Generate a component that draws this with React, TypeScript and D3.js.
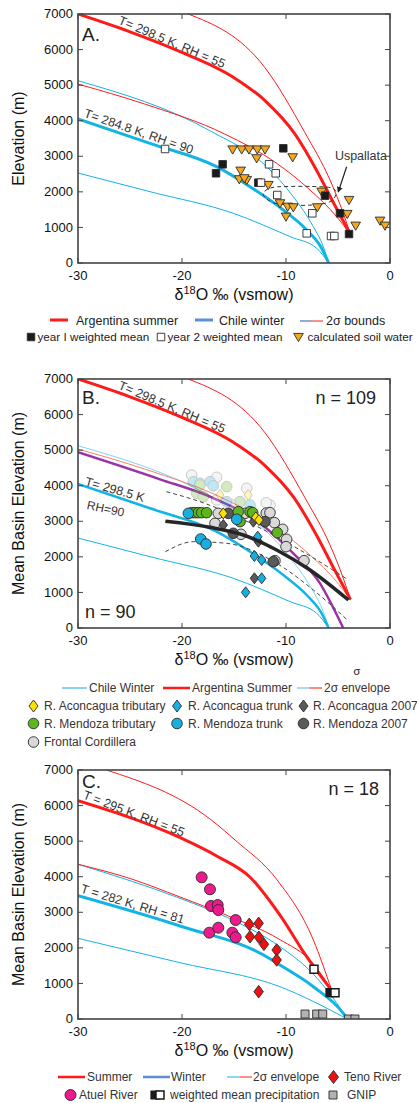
import React from "react";
import * as d3 from "d3";

type Pt = [number, number];

const FONT = "'Liberation Sans', Arial, Helvetica, sans-serif";

const xTicks = [-30, -20, -10, 0];
const yTicks = [0, 1000, 2000, 3000, 4000, 5000, 6000, 7000];

// model curves, panels A and B  (δ18O ‰, elevation m)
const summerMain: Pt[] = [[-30, 7000], [-25, 6500], [-20.4, 5970], [-15.1, 5230], [-12, 4560], [-9.2, 3650], [-7.05, 2600], [-5.45, 1700], [-3.8, 800]];
const summerUpper: Pt[] = [[-19.4, 7000], [-12.05, 5500], [-8.2, 3674], [-5.77, 2333], [-4.49, 1397], [-3.8, 800]];
const summerLower: Pt[] = [[-30, 5030], [-23.6, 4470], [-15.9, 3627], [-10.9, 2803], [-7.69, 2052], [-5.13, 1302], [-3.8, 800]];
const winterMain: Pt[] = [[-30, 4048], [-23.08, 3365], [-16.67, 2708], [-13.46, 2145], [-10.26, 1490], [-8.01, 928], [-6.57, 413], [-5.9, 0]];
const winterUpper: Pt[] = [[-30, 5125], [-17.2, 3700], [-11.86, 2708], [-9.3, 1864], [-7.37, 1020], [-6.41, 458], [-5.9, 0]];
const winterLower: Pt[] = [[-30, 2530], [-23.08, 2005], [-15.07, 1397], [-9.6, 740], [-7.05, 413], [-5.9, 0]];

// panel B extra curves
const purpleCurve: Pt[] = [[-30, 4940], [-22.12, 4180], [-17.31, 3691], [-12.5, 2943], [-9.3, 2099], [-6.73, 1256], [-5.13, 380], [-4.5, 0]];
const fitCurve: Pt[] = [[-21.6, 3000], [-17.31, 2830], [-14.1, 2614], [-10.9, 2193], [-7.69, 1631], [-4.0, 787]];
const fitUpper: Pt[] = [[-21.5, 3832], [-18.27, 3551], [-10.9, 2567], [-7.05, 1912], [-4.0, 1349]];
const fitLower: Pt[] = [[-21.6, 2145], [-18.9, 2427], [-15.7, 2380], [-10.9, 1818], [-7.37, 1068], [-4.0, 200]];

// panel C curves
const cSummerMain: Pt[] = [[-30, 6137], [-20.38, 5125], [-16.54, 4563], [-13.5, 4000], [-10.58, 2920], [-8.01, 1751], [-5.6, 800]];
const cSummerUpper: Pt[] = [[-27.28, 7000], [-17.18, 5594], [-14.9, 5032], [-10.85, 3908], [-7.37, 2221], [-5.6, 800]];
const cSummerLower: Pt[] = [[-30, 4350], [-25, 3950], [-20.19, 3430], [-15.38, 2876], [-10.7, 2250], [-7.37, 1550], [-5.6, 800]];
const cWinterMain: Pt[] = [[-30, 3466], [-20.19, 2614], [-11.86, 1751], [-10.58, 1518], [-7.37, 908], [-4.49, 159], [-4.1, 0]];
const cWinterUpper: Pt[] = [[-30, 4350], [-20.19, 3392], [-15.4, 2820], [-10.58, 2033], [-7.5, 1300], [-5.5, 600], [-4.1, 0]];
const cWinterLower: Pt[] = [[-30, 2268], [-20.19, 1583], [-10.58, 908], [-4.1, 0]];

// panel A samples
const yearOne: Pt[] = [[-16.73, 2522], [-16.09, 2774], [-10.26, 3224], [-12.66, 2258], [-6.25, 1893], [-4.81, 1397], [-3.94, 815]];
const yearTwo: Pt[] = [[-21.63, 3205], [-11.63, 2774], [-10.99, 2522], [-12.4, 2258], [-10.84, 1912], [-7.47, 1397], [-8.01, 834], [-5.67, 759], [-5.35, 759]];
const soilWater: Pt[] = [
  [-15.13, 3191], [-14.26, 3191], [-13.56, 3191], [-12.76, 3191], [-12.02, 3191], [-12.82, 2943], [-9.36, 2971],
  [-14.36, 2595], [-14.49, 2353], [-13.78, 2333], [-14.01, 2381], [-11.7, 2193], [-6.57, 2005], [-3.94, 1771],
  [-10.58, 1678], [-9.84, 1583], [-9.3, 1565], [-10.0, 1302], [-6.99, 1565], [-4.11, 1378], [-3.3, 1049],
  [-0.96, 1189], [-0.48, 1049],
];
const uspallataLoop: Pt[] = [[-12.2, 1930], [-11.5, 2110], [-10, 2150], [-7.5, 2150], [-5.6, 2110], [-5.2, 1930], [-5.8, 1720], [-7.5, 1630], [-9.5, 1630], [-11.3, 1700]];

// panel B samples
const fadedGray: Pt[] = [[-19.07, 4301], [-16.67, 4236], [-13.78, 3926], [-11.54, 3458], [-15.07, 3458], [-16.67, 3599], [-11.9, 3520]];
const fadedCyan: Pt[] = [[-18.91, 4113], [-18.27, 4068], [-17.31, 4113], [-15.7, 3551], [-13.46, 3458], [-17.0, 4000]];
const fadedGreen: Pt[] = [[-18.59, 3786], [-17.95, 3692], [-14.42, 3551], [-15.7, 3974], [-18.27, 4020]];
const fadedYellow: Pt[] = [[-16.35, 3739], [-13.63, 3739]];
const frontal: Pt[] = [[-16.83, 2943], [-16.51, 3223], [-14.33, 2634], [-13.94, 3223], [-11.9, 3230], [-11.54, 3242], [-11.12, 2962], [-10.32, 2774], [-9.94, 2493], [-10.0, 2287], [-11.06, 1892], [-8.27, 1892]];
const mendoza2007: Pt[] = [[-15.07, 2662], [-12.02, 2990], [-11.22, 1865], [-15.55, 3223]];
const mendozaTrib: Pt[] = [[-19.07, 3242], [-18.75, 3242], [-18.43, 3242], [-18.11, 3242], [-17.63, 3242], [-14.59, 3270], [-13.46, 3270], [-13.2, 3242], [-14.42, 2990], [-10.84, 2680]];
const mendozaTrunk: Pt[] = [[-19.39, 3223], [-18.2, 2502], [-17.69, 2362], [-14.74, 3055]];
const aconcagua2007: Pt[] = [[-16.03, 2896], [-13.14, 2990], [-12.66, 2427], [-13.04, 1397]];
const aconcaguaTrunk: Pt[] = [[-12.72, 2567], [-13.04, 2024], [-12.34, 1912], [-12.34, 1397], [-13.88, 1003]];
const aconcaguaTrib: Pt[] = [[-16.03, 3224], [-12.9, 3110], [-12.6, 3036]];

// panel C samples
const atuel: Pt[] = [[-18.11, 3983], [-17.31, 3646], [-17.21, 3177], [-16.57, 3205], [-16.51, 3064], [-14.84, 2783], [-17.37, 2427], [-16.51, 2567], [-15.16, 2427], [-14.84, 2296]];
const teno: Pt[] = [[-13.53, 2662], [-12.63, 2690], [-13.46, 2314], [-12.6, 2296], [-12.12, 2099], [-10.9, 1940], [-10.9, 1659], [-12.63, 768]];
const precipOpen: Pt[] = [[-7.31, 1397], [-5.29, 740]];
const precipFilled: Pt[] = [[-5.77, 740]];
const gnip: Pt[] = [[-8.17, 140], [-7.05, 140], [-6.47, 140], [-4.0, 0], [-3.37, 0]];

const RED = "#ff1a1a";
const CYAN = "#12b4e6";
const INK = "#333";

const sq = (cx: number, cy: number, s: number) => `M${cx - s / 2},${cy - s / 2}h${s}v${s}h${-s}Z`;
const tri = (cx: number, cy: number) => `M${cx - 4.8},${cy - 3.6}L${cx + 4.8},${cy - 3.6}L${cx},${cy + 4.6}Z`;
const dia = (cx: number, cy: number, w: number, h: number) =>
  `M${cx},${cy - h / 2}L${cx + w / 2},${cy}L${cx},${cy + h / 2}L${cx - w / 2},${cy}Z`;

type Sc = d3.ScaleLinear<number, number>;

function Panel({ top, letter, letterDy, yTitle, children }: { top: number; letter: string; letterDy: number; yTitle: string; children: (x: Sc, y: Sc, line: (p: Pt[]) => string) => React.ReactNode }) {
  const x = d3.scaleLinear().domain([-30, 0]).range([78, 390]);
  const y = d3.scaleLinear().domain([0, 7000]).range([top + 249, top]);
  const line = (p: Pt[]) => d3.line<Pt>().x((d) => x(d[0])).y((d) => y(d[1])).curve(d3.curveMonotoneX)(p) || "";
  const bottom = y(0);
  const id = `clip-${letter}`;
  return (
    <g>
      <defs>
        <clipPath id={id}>
          <rect x={78} y={top} width={312} height={249} />
        </clipPath>
      </defs>
      <g clipPath={`url(#${id})`}>{children(x, y, line)}</g>
      <rect x={78} y={top} width={312} height={249} fill="none" stroke="#444" strokeWidth={1.6} />
      {yTicks.map((t) => (
        <g key={`y${t}`}>
          <line x1={78} x2={83} y1={y(t)} y2={y(t)} stroke="#444" />
          <line x1={385} x2={390} y1={y(t)} y2={y(t)} stroke="#444" />
          <text x={73} y={y(t)} dy="0.32em" textAnchor="end" fontSize={13} fill="#111">{t}</text>
        </g>
      ))}
      {xTicks.map((t) => (
        <g key={`x${t}`}>
          <line x1={x(t)} x2={x(t)} y1={bottom} y2={bottom - 5} stroke="#444" />
          <line x1={x(t)} x2={x(t)} y1={top} y2={top + 5} stroke="#444" />
          <text x={x(t)} y={bottom + 17} textAnchor="middle" fontSize={13} fill="#111">{t}</text>
        </g>
      ))}
      <text x={234} y={bottom + 37} textAnchor="middle" fontSize={16} fill="#111">
        δ<tspan dy={-6} fontSize={11}>18</tspan><tspan dy={6}>O ‰ (vsmow)</tspan>
      </text>
      <text transform={`translate(24,${top + 124.5}) rotate(-90)`} textAnchor="middle" fontSize={16} fill="#111">{yTitle}</text>
      <text x={82} y={top + letterDy} fontSize={19} fill="#222">{letter}.</text>
    </g>
  );
}

const mk = { stroke: "#2a2a2a", strokeWidth: 0.9 };

export default function App() {
  return (
    <svg width={417} height={1103} style={{ position: "absolute", left: 0, top: 0, background: "#fff" }} fontFamily={FONT}>
      <defs>
        <marker id="arrow" viewBox="0 0 10 10" refX={8} refY={5} markerWidth={5} markerHeight={5} orient="auto">
          <path d="M0,0L10,5L0,10Z" fill="#222" />
        </marker>
      </defs>

      {/* Panel A */}
      <Panel top={14} letter="A" letterDy={27} yTitle="Elevation (m)">
        {(x, y, line) => (
          <g>
            <path d={line(winterLower)} fill="none" stroke={CYAN} strokeWidth={1} />
            <path d={line(winterUpper)} fill="none" stroke={CYAN} strokeWidth={1} />
            <path d={line(summerLower)} fill="none" stroke={RED} strokeWidth={1} />
            <path d={line(summerUpper)} fill="none" stroke={RED} strokeWidth={1} />
            <path d={line(winterMain)} fill="none" stroke={CYAN} strokeWidth={3} />
            <path d={line(summerMain)} fill="none" stroke={RED} strokeWidth={3} />
            <path d={d3.line<Pt>().x((d) => x(d[0])).y((d) => y(d[1])).curve(d3.curveCardinalClosed)(uspallataLoop) || ""} fill="none" stroke="#333" strokeWidth={1} strokeDasharray="4,3" />
            {soilWater.map((d, i) => <path key={`s${i}`} d={tri(x(d[0]), y(d[1]))} fill="#f5a81c" {...mk} />)}
            {yearOne.map((d, i) => <path key={`a${i}`} d={sq(x(d[0]), y(d[1]), 7.5)} fill="#1a1a1a" {...mk} />)}
            {yearTwo.map((d, i) => <path key={`b${i}`} d={sq(x(d[0]), y(d[1]), 7.5)} fill="#fff" {...mk} />)}
            <text transform={`translate(${x(-26.2)},${y(6620) - 4}) rotate(23)`} fontSize={12.5} fill={INK}>T= 298.5 K, RH = 55</text>
            <text transform={`translate(${x(-29.5)},${y(4000) - 4}) rotate(19)`} fontSize={12.5} fill={INK}>T= 284.8 K, RH = 90</text>
            <text x={x(-5.3)} y={y(2905)} fontSize={12.5} fill={INK}>Uspallata</text>
            <line x1={x(-4.17)} y1={y(2707)} x2={x(-4.97)} y2={y(2004)} stroke="#222" strokeWidth={1.2} markerEnd="url(#arrow)" />
          </g>
        )}
      </Panel>

      {/* Legend A */}
      <g fontSize={12.5} fill="#222">
        <line x1={50} x2={68} y1={320} y2={320} stroke={RED} strokeWidth={3} />
        <text x={76} y={324.5}>Argentina summer</text>
        <line x1={195} x2={213} y1={320} y2={320} stroke="#5b8fd6" strokeWidth={3} />
        <text x={219} y={324.5}>Chile winter</text>
        <line x1={300} x2={312} y1={321} y2={321} stroke="#3355aa" strokeWidth={1} />
        <line x1={312} x2={323} y1={321} y2={321} stroke={RED} strokeWidth={1} />
        <text x={326} y={324.5}>2σ bounds</text>
      </g>
      <g fontSize={11.7} fill="#222">
        <path d={sq(31, 337, 7.5)} fill="#1a1a1a" {...mk} />
        <text x={37.5} y={341}>year I weighted mean</text>
        <path d={sq(161, 337, 7.5)} fill="#fff" {...mk} />
        <text x={167.5} y={341}>year 2 weighted mean</text>
        <path d={tri(298.5, 337)} fill="#f5a81c" {...mk} />
        <text x={307.5} y={341}>calculated soil water</text>
      </g>

      {/* Panel B */}
      <Panel top={379} letter="B" letterDy={25} yTitle="Mean Basin Elevation (m)">
        {(x, y, line) => (
          <g>
            <path d={line(winterLower)} fill="none" stroke={CYAN} strokeWidth={1} />
            <path d={line(winterUpper)} fill="none" stroke="#7fd4f2" strokeWidth={1} />
            <path d={line(summerLower)} fill="none" stroke="#ff7a6a" strokeWidth={1} />
            <path d={line(summerUpper)} fill="none" stroke={RED} strokeWidth={1} />
            <path d={line(purpleCurve)} fill="none" stroke="#9b35a6" strokeWidth={2.5} />
            <path d={line(winterMain)} fill="none" stroke={CYAN} strokeWidth={2.5} />
            <path d={line(summerMain)} fill="none" stroke={RED} strokeWidth={3} />
            <path d={line(fitUpper)} fill="none" stroke="#444" strokeWidth={1} strokeDasharray="4,3" />
            <path d={line(fitLower)} fill="none" stroke="#444" strokeWidth={1} strokeDasharray="4,3" />
            <g opacity={0.28}>
              {fadedGray.map((d, i) => <circle key={`fg${i}`} cx={x(d[0])} cy={y(d[1])} r={5.3} fill="#d8d8d8" {...mk} />)}
              {fadedCyan.map((d, i) => <circle key={`fc${i}`} cx={x(d[0])} cy={y(d[1])} r={5.3} fill="#17aee0" {...mk} />)}
              {fadedGreen.map((d, i) => <circle key={`fn${i}`} cx={x(d[0])} cy={y(d[1])} r={5.3} fill="#5fb51c" {...mk} />)}
              {fadedYellow.map((d, i) => <path key={`fy${i}`} d={dia(x(d[0]), y(d[1]), 8, 11)} fill="#ffe100" {...mk} />)}
            </g>
            {frontal.map((d, i) => <circle key={`fr${i}`} cx={x(d[0])} cy={y(d[1])} r={5.3} fill="#d9d9d9" {...mk} />)}
            {mendoza2007.map((d, i) => <circle key={`m7${i}`} cx={x(d[0])} cy={y(d[1])} r={5.3} fill="#5a5a5a" {...mk} />)}
            {mendozaTrib.map((d, i) => <circle key={`mt${i}`} cx={x(d[0])} cy={y(d[1])} r={5.3} fill="#5fb51c" {...mk} />)}
            {mendozaTrunk.map((d, i) => <circle key={`mk${i}`} cx={x(d[0])} cy={y(d[1])} r={5.3} fill="#17aee0" {...mk} />)}
            {aconcagua2007.map((d, i) => <path key={`a7${i}`} d={dia(x(d[0]), y(d[1]), 8.5, 11)} fill="#5a5a5a" {...mk} />)}
            {aconcaguaTrunk.map((d, i) => <path key={`ak${i}`} d={dia(x(d[0]), y(d[1]), 8.5, 11)} fill="#17aee0" {...mk} />)}
            {aconcaguaTrib.map((d, i) => <path key={`at${i}`} d={dia(x(d[0]), y(d[1]), 8.5, 11)} fill="#ffe100" {...mk} />)}
            <path d={line(fitCurve)} fill="none" stroke="#262626" strokeWidth={3.5} />
            <text transform={`translate(${x(-26.2)},${y(6620) - 4}) rotate(23)`} fontSize={12.5} fill={INK}>T= 298.5 K, RH = 55</text>
            <text transform={`translate(${x(-29.4)},${y(3930) - 3}) rotate(16)`} fontSize={12.5} fill={INK}>T= 298.5 K</text>
            <text transform={`translate(${x(-29.2)},${y(3350)}) rotate(12)`} fontSize={12} fill={INK}>RH=90</text>
            <text x={376} y={404} textAnchor="end" fontSize={18} fill="#222">n = 109</text>
            <text x={85} y={618} fontSize={18} fill="#222">n = 90</text>
          </g>
        )}
      </Panel>

      <text x={357} y={675} textAnchor="middle" fontSize={11} fill="#222">σ</text>

      {/* Legend B */}
      <g fontSize={12} fill="#3b3232">
        <line x1={62} x2={87} y1={688} y2={688} stroke="#8fcfee" strokeWidth={2} />
        <text x={89} y={692}>Chile Winter</text>
        <line x1={163} x2={190} y1={688} y2={688} stroke={RED} strokeWidth={2.5} />
        <text x={192} y={692}>Argentina Summer</text>
        <line x1={297} x2={309} y1={688} y2={688} stroke="#a9dcf2" strokeWidth={2} />
        <line x1={309} x2={322} y1={688} y2={688} stroke="#ff8a78" strokeWidth={2} />
        <text x={324} y={692}>2σ envelope</text>

        <path d={dia(33.5, 706, 9, 12)} fill="#ffe100" {...mk} />
        <text x={44} y={710}>R. Aconcagua tributary</text>
        <path d={dia(177, 706, 9, 12)} fill="#17aee0" {...mk} />
        <text x={188} y={710}>R. Aconcagua trunk</text>
        <path d={dia(303.5, 706, 9, 12)} fill="#5a5a5a" {...mk} />
        <text x={313} y={710}>R. Aconcagua 2007</text>

        <circle cx={33.5} cy={723.5} r={5.3} fill="#5fb51c" {...mk} />
        <text x={44} y={727.5}>R. Mendoza tributary</text>
        <circle cx={177} cy={723.5} r={5.3} fill="#17aee0" {...mk} />
        <text x={188} y={727.5}>R. Mendoza trunk</text>
        <circle cx={303.5} cy={723.5} r={5.3} fill="#5a5a5a" {...mk} />
        <text x={313} y={727.5}>R. Mendoza 2007</text>

        <circle cx={33.5} cy={742} r={5.3} fill="#d9d9d9" {...mk} />
        <text x={44} y={746}>Frontal Cordillera</text>
      </g>

      {/* Panel C */}
      <Panel top={770} letter="C" letterDy={18} yTitle="Mean Basin Elevation (m)">
        {(x, y, line) => (
          <g>
            <path d={line(cWinterLower)} fill="none" stroke={CYAN} strokeWidth={1} />
            <path d={line(cWinterUpper)} fill="none" stroke={CYAN} strokeWidth={1} />
            <path d={line(cSummerLower)} fill="none" stroke={RED} strokeWidth={1} />
            <path d={line(cSummerUpper)} fill="none" stroke={RED} strokeWidth={1} />
            <path d={line(cWinterMain)} fill="none" stroke={CYAN} strokeWidth={3} />
            <path d={line(cSummerMain)} fill="none" stroke={RED} strokeWidth={3} />
            {atuel.map((d, i) => <circle key={`at${i}`} cx={x(d[0])} cy={y(d[1])} r={5.5} fill="#ec1a8c" {...mk} />)}
            {teno.map((d, i) => <path key={`te${i}`} d={dia(x(d[0]), y(d[1]), 9.5, 12.5)} fill="#ee1111" {...mk} />)}
            {gnip.map((d, i) => <path key={`gn${i}`} d={sq(x(d[0]), y(d[1]), 8)} fill="#b3b3b3" {...mk} />)}
            {precipFilled.map((d, i) => <path key={`pf${i}`} d={sq(x(d[0]), y(d[1]), 8)} fill="#1a1a1a" stroke="#1a1a1a" strokeWidth={1.2} />)}
            {precipOpen.map((d, i) => <path key={`po${i}`} d={sq(x(d[0]), y(d[1]), 8)} fill="#fff" stroke="#1a1a1a" strokeWidth={1.5} />)}
            <text transform={`translate(${x(-29.6)},${y(6095) - 4}) rotate(21)`} fontSize={12.5} fill={INK}>T = 295 K, RH = 55</text>
            <text transform={`translate(${x(-29.8)},${y(3449) - 4}) rotate(17)`} fontSize={12.5} fill={INK}>T = 282 K, RH = 81</text>
            <text x={379} y={795} textAnchor="end" fontSize={18} fill="#222">n = 18</text>
          </g>
        )}
      </Panel>

      {/* Legend C */}
      <g fontSize={12} fill="#333">
        <line x1={58} x2={85} y1={1077} y2={1077} stroke={RED} strokeWidth={2.5} />
        <text x={87} y={1081}>Summer</text>
        <line x1={143} x2={170} y1={1077} y2={1077} stroke="#5b8fd6" strokeWidth={2.5} />
        <text x={171} y={1081}>Winter</text>
        <line x1={227} x2={240} y1={1077} y2={1077} stroke={CYAN} strokeWidth={1} />
        <line x1={240} x2={252} y1={1077} y2={1077} stroke={RED} strokeWidth={1} />
        <text x={253} y={1081}>2σ envelope</text>
        <path d={dia(333.5, 1077, 10, 13)} fill="#ee1111" {...mk} />
        <text x={344} y={1081}>Teno River</text>

        <circle cx={70.5} cy={1095} r={5.5} fill="#ec1a8c" {...mk} />
        <text x={79} y={1099}>Atuel River</text>
        <path d={sq(155, 1095, 8)} fill="#1a1a1a" stroke="#1a1a1a" strokeWidth={1.2} />
        <path d={sq(160, 1095, 8)} fill="#fff" stroke="#1a1a1a" strokeWidth={1.5} />
        <text x={170} y={1099}>weighted mean precipitation</text>
        <path d={sq(333, 1095, 8)} fill="#b3b3b3" {...mk} />
        <text x={347} y={1099}>GNIP</text>
      </g>
    </svg>
  );
}
